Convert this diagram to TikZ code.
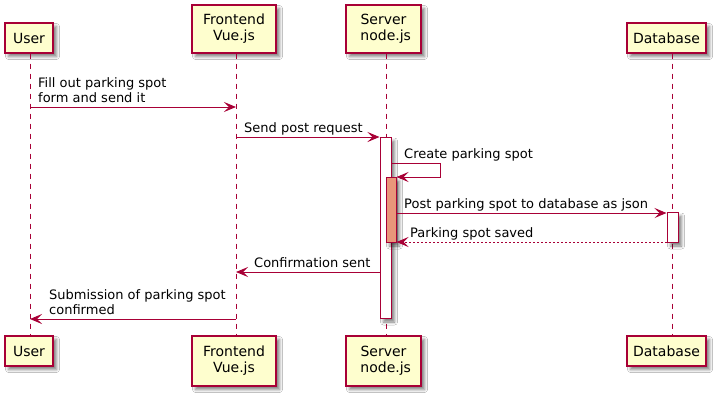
\documentclass[tikz,border=0pt]{standalone}
\usepackage{fontspec}
\setmainfont{DejaVu Sans}
\usetikzlibrary{arrows.meta,shadows.blur}
\definecolor{pborder}{HTML}{A80036}
\definecolor{pfill}{HTML}{FEFECE}
\definecolor{nestfill}{HTML}{E9967A}
\tikzset{
  shad/.style={blur shadow={shadow xshift=3.5pt,shadow yshift=-3.5pt,shadow blur radius=3pt,shadow opacity=50}},
  part/.style={draw=pborder, fill=pfill, line width=1.1pt, inner sep=0pt, align=center,
    font=\fontsize{14}{16}\selectfont, shad},
  life/.style={draw=pborder, line width=0.9pt, dash pattern=on 5pt off 5pt},
  act/.style={draw=pborder, fill=white, line width=1pt, inner sep=0pt, shad},
  msg/.style={draw=pborder, line width=1pt, -{Stealth[length=12pt,width=10pt,inset=5pt]}},
  reply/.style={msg, dash pattern=on 2pt off 2pt},
  lbl/.style={font=\fontsize{13}{15}\selectfont, inner sep=0pt, align=left, anchor=base west},
}
\begin{document}
\begin{tikzpicture}[x=1pt,y=-1pt]
\useasboundingbox[fill=white] (0,0) rectangle (727,400);
% lifeline x positions
\coordinate (uX) at (30,0);
\coordinate (fX) at (236,0);
\coordinate (sX) at (386,0);
\coordinate (dX) at (672,0);
% participants top
\node[part, minimum width=48pt, minimum height=30pt] (ut) at (29,38) {User};
\node[part, minimum width=84pt, minimum height=48pt] (ft) at (234,29) {Frontend\\Vue.js};
\node[part, minimum width=75pt, minimum height=48pt] (st) at (383.5,29) {Server\\\ node.js};
\node[part, minimum width=79pt, minimum height=30pt] (dt) at (666.5,38) {Database};
% participants bottom
\node[part, minimum width=48pt, minimum height=30pt] (ub) at (29,351) {User};
\node[part, minimum width=84pt, minimum height=50pt] (fb) at (234,361) {Frontend\\Vue.js};
\node[part, minimum width=75pt, minimum height=50pt] (sb) at (383.5,361) {Server\\\ node.js};
\node[part, minimum width=79pt, minimum height=30pt] (db) at (666.5,351) {Database};
% lifelines
\draw[life] (ut.south -| uX) -- (ub.north -| uX);
\draw[life] (ft.south -| fX) -- (fb.north -| fX);
\draw[life] (st.south -| sX) -- (sb.north -| sX);
\draw[life] (dt.south -| dX) -- (db.north -| dX);
% activations
\node[act, anchor=north, minimum width=11pt, minimum height=181pt] (sa) at (385.5,137) {};
\node[act, fill=nestfill, anchor=north, minimum width=10pt, minimum height=65pt] (na) at (391,177) {};
\node[act, anchor=north, minimum width=11pt, minimum height=30pt] (da) at (672.5,212) {};
% messages
\draw[msg] (uX |- 0,107) -- (fX |- 0,107);
\node[lbl] (l1) at (38,102) {Fill out parking spot\\form and send it};
\draw[msg] (fX |- 0,137) -- (sa.west |- 0,137);
\node[lbl] (l2) at (244,132) {Send post request};
\draw[msg] (sa.east |- 0,163) -- ++(49,0) -- ++(0,14) -- (na.east |- 0,177);
\node[lbl] (l3) at (404,158) {Create parking spot};
\draw[msg] (na.east |- 0,213) -- (da.west |- 0,213);
\node[lbl] (l4) at (404,208) {Post parking spot to database as json};
\draw[reply] (da.west |- 0,242) -- (na.east |- 0,242);
\node[lbl] (l5) at (410,237) {Parking spot saved};
\draw[msg] (sa.west |- 0,272) -- (fX |- 0,272);
\node[lbl] (l6) at (254,267) {Confirmation sent};
\draw[msg] (fX |- 0,319) -- (uX |- 0,319);
\node[lbl] (l7) at (49,314) {Submission of parking spot\\confirmed};
\end{tikzpicture}
\end{document}
